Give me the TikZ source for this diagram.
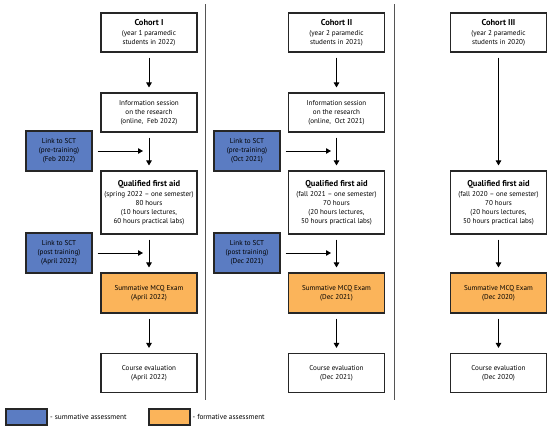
\documentclass[tikz,border=0pt]{standalone}
\usepackage{fontspec}
\setmainfont{PT Sans}
\usetikzlibrary{arrows.meta}
\definecolor{sumblue}{HTML}{5B7CC2}
\definecolor{formor}{HTML}{FBB45A}
\definecolor{sepgray}{HTML}{555555}
\newcommand{\tf}{\fontsize{8.5}{10}\selectfont\bfseries}
\tikzset{
  box/.style={draw=black!85, line width=1.1pt, fill=white, minimum width=96pt, minimum height=39pt, inner sep=0pt, align=center, font=\fontsize{7.1}{8.9}\selectfont},
  tallbox/.style={box, minimum height=63pt},
  bluebox/.style={box, fill=sumblue, minimum width=66pt, minimum height=40pt},
  orbox/.style={box, fill=formor, minimum height=40pt},
  legbox/.style={draw=black!85, line width=1.1pt, minimum width=41pt, minimum height=16pt, inner sep=0pt},
  arr/.style={line width=0.9pt, -{Triangle[length=5pt,width=5.5pt]}, shorten >=5pt, shorten <=5pt},
  harr/.style={line width=0.9pt, -{Triangle[length=5pt,width=5.5pt]}, shorten <=5pt},
  sep/.style={draw=sepgray, line width=1.2pt},
  legtext/.style={anchor=west, inner sep=0pt, font=\fontsize{7.3}{9}\selectfont}
}
\begin{document}
\begin{tikzpicture}[x=1pt,y=-1pt]
\useasboundingbox[fill=white] (0,0) rectangle (550,429);
% separators
\coordinate (s1t) at (205.7,4); \coordinate (s1b) at (205.7,400);
\coordinate (s2t) at (394.3,4); \coordinate (s2b) at (394.3,400);
\draw[sep] (s1t) -- (s1b);
\draw[sep] (s2t) -- (s2b);
% Cohort I
\node[box] (c1) at (149,32.5) {{\tf Cohort I}\\[1pt](year 1 paramedic\\students in 2022)};
\node[box] (i1) at (149,112.5) {Information session\\on the research\\(online,\ \ Feb 2022)};
\node[tallbox] (q1) at (149,202.5) {{\tf Qualified first aid}\\[1pt](spring 2022 -- one semester)\\80 hours\\(10 hours lectures,\\60 hours practical labs)};
\node[orbox] (e1) at (149,293) {Summative MCQ Exam\\(April 2022)};
\node[box] (v1) at (149,373) {Course evaluation\\(April 2022)};
\node[bluebox] (b1a) at (59,151) {Link to SCT\\(pre-training)\\(Feb 2022)};
\node[bluebox] (b1b) at (59,253) {Link to SCT\\(post training)\\(April 2022)};
\coordinate (h1a) at (143,151);
\coordinate (h1b) at (143,253);
\draw[arr] (c1) -- (i1);
\draw[arr] (i1) -- (q1);
\draw[arr] (q1) -- (e1);
\draw[arr] (e1) -- (v1);
\draw[harr] (b1a) -- (h1a);
\draw[harr] (b1b) -- (h1b);
% Cohort II
\node[box] (c2) at (336.5,32.5) {{\tf Cohort II}\\[1pt](year 2 paramedic\\students in 2021)};
\node[box] (i2) at (336.5,112.5) {Information session\\on the research\\(online,\ \ Oct 2021)};
\node[tallbox] (q2) at (336.5,202.5) {{\tf Qualified first aid}\\[1pt](fall 2021 -- one semester)\\70 hours\\(20 hours lectures,\\50 hours practical labs)};
\node[orbox] (e2) at (336.5,293) {Summative MCQ Exam\\(Dec 2021)};
\node[box] (v2) at (336.5,373) {Course evaluation\\(Dec 2021)};
\node[bluebox] (b2a) at (247,151) {Link to SCT\\(pre-training)\\(Oct 2021)};
\node[bluebox] (b2b) at (247,253) {Link to SCT\\(post training)\\(Dec 2021)};
\coordinate (h2a) at (331,151);
\coordinate (h2b) at (331,253);
\draw[arr] (c2) -- (i2);
\draw[arr] (i2) -- (q2);
\draw[arr] (q2) -- (e2);
\draw[arr] (e2) -- (v2);
\draw[harr] (b2a) -- (h2a);
\draw[harr] (b2b) -- (h2b);
% Cohort III
\node[box] (c3) at (498.5,32.5) {{\tf Cohort III}\\[1pt](year 2 paramedic\\students in 2020)};
\node[tallbox] (q3) at (498.5,202.5) {{\tf Qualified first aid}\\[1pt](fall 2020 -- one semester)\\70 hours\\(20 hours lectures,\\50 hours practical labs)};
\node[orbox] (e3) at (498.5,293) {Summative MCQ Exam\\(Dec 2020)};
\node[box] (v3) at (498.5,373) {Course evaluation\\(Dec 2020)};
\draw[arr] (c3) -- (q3);
\draw[arr] (q3) -- (e3);
\draw[arr] (e3) -- (v3);
% legend
\node[legbox, fill=sumblue] (lb) at (26.5,417) {};
\node[legtext] (lbt) at (50,417) {- summative assessment};
\node[legbox, fill=formor] (lo) at (169.5,417) {};
\node[legtext] (lot) at (192.5,417) {- formative assessment};
\end{tikzpicture}
\end{document}
